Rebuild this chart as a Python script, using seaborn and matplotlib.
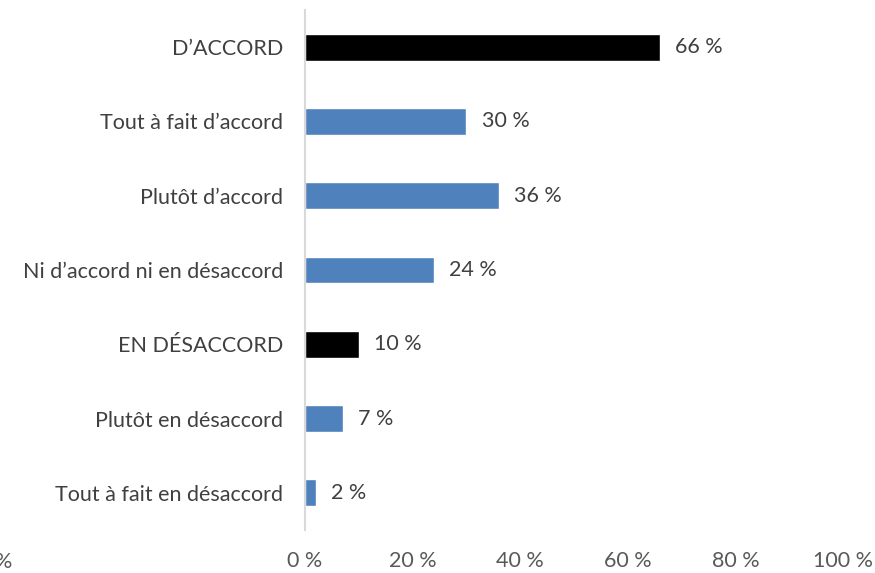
import matplotlib
matplotlib.use("Agg")
import matplotlib.pyplot as plt
import seaborn as sns
import pandas as pd

categories = ["D’ACCORD", "Tout à fait d’accord", "Plutôt d’accord",
              "Ni d’accord ni en désaccord", "EN DÉSACCORD",
              "Plutôt en désaccord", "Tout à fait en désaccord"]
values = [66, 30, 36, 24, 10, 7, 2]
colors = ["#000000", "#4f81bd", "#4f81bd", "#4f81bd", "#000000", "#4f81bd", "#4f81bd"]
xticks = [0, 20, 40, 60, 80, 100]

sns.set_theme(style="white")
plt.rcParams['font.family'] = ['Lato', 'DejaVu Sans']

FS = 15.5
df = pd.DataFrame({"cat": categories, "val": values})

fig = plt.figure(figsize=(8.75, 5.73), dpi=100)
ax = fig.add_axes([305/875, 1-530/573, (843-305)/875, 520/573])
sns.barplot(data=df, x="val", y="cat", hue="cat", palette=colors, legend=False,
            width=0.36, ax=ax, orient="h", saturation=1)

ax.set_xlim(0, 100)
ax.set_ylim(6.5, -0.5)
ax.set_xticks(xticks)
ax.set_xticklabels([f"{t} %" for t in xticks], color="#595959", fontsize=FS)
ax.tick_params(axis="x", length=0, pad=15)
ax.tick_params(axis="y", length=0, pad=16, labelsize=FS, labelcolor="#404040")
ax.set_xlabel("")
ax.set_ylabel("")
for s in ["top", "right", "bottom"]:
    ax.spines[s].set_visible(False)
ax.spines["left"].set_color("#d9d9d9")
ax.spines["left"].set_linewidth(1.5)

for i, v in enumerate(values):
    ax.annotate(f"{v} %", xy=(v, i), xytext=(11, 0), textcoords="offset points",
                va="center", ha="left", fontsize=FS, color="#404040")

fig.text(-0.006, 1-562/573, "%", fontsize=FS, color="#595959", va="center", ha="left")

fig.savefig("out.png", dpi=100)
